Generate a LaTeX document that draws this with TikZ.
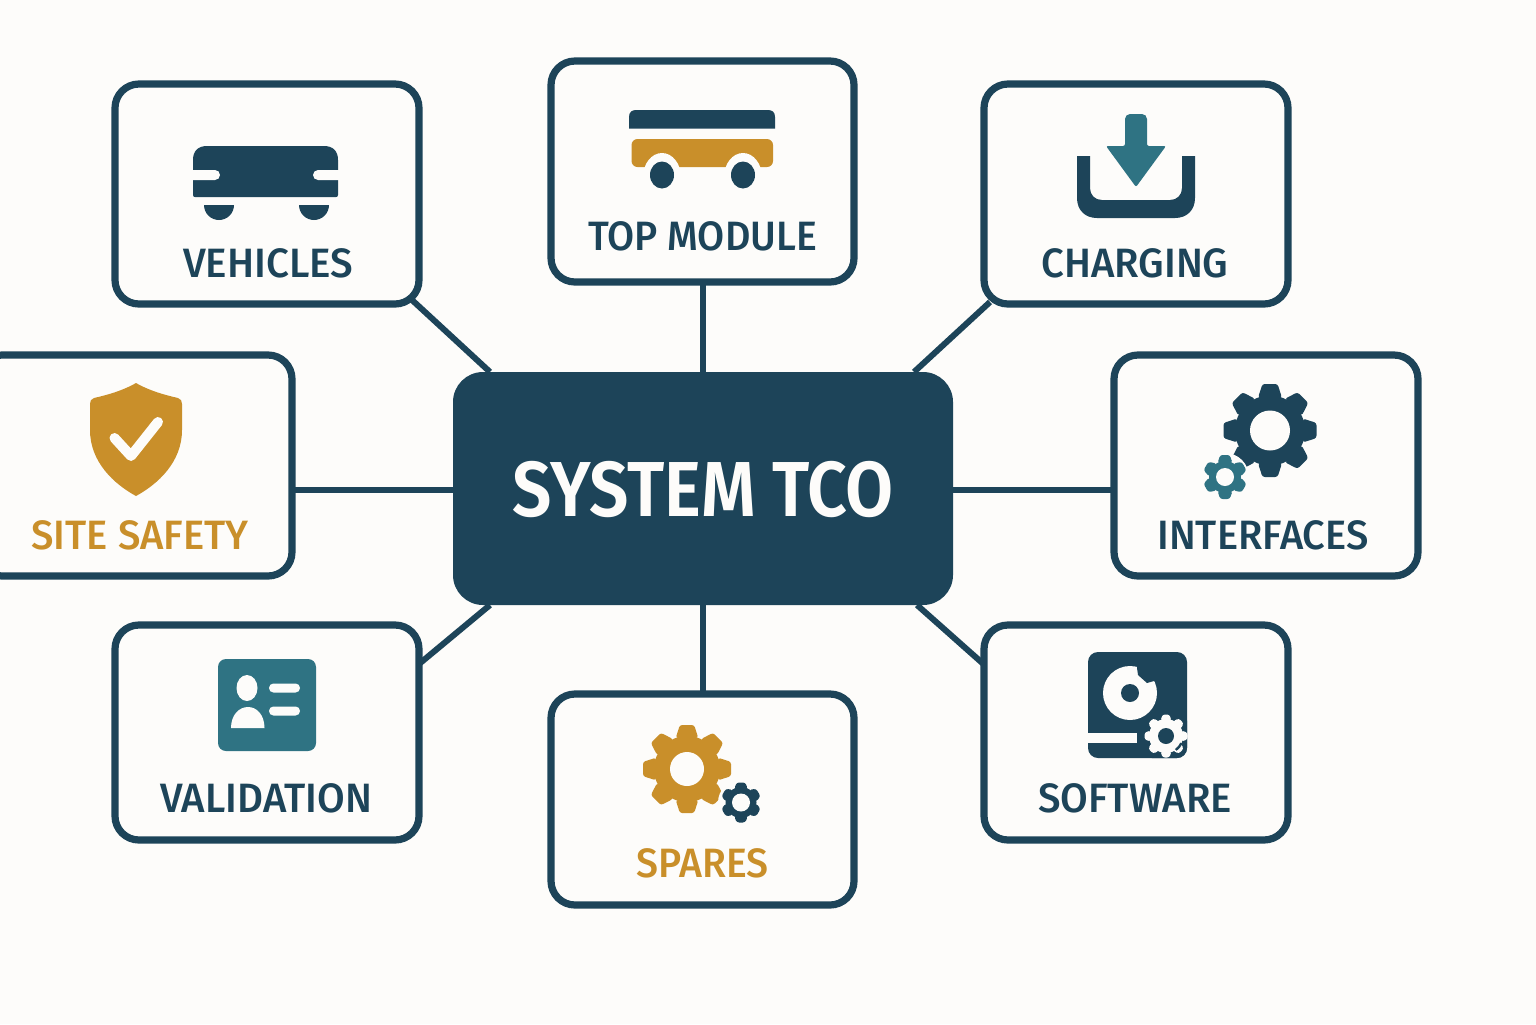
\documentclass[tikz,border=0pt]{standalone}
\usepackage{fontspec}
\usepackage{graphicx}
\setmainfont{Fira Sans}[BoldFont=Fira Sans Medium]
\newfontfamily\hubfont{Fira Sans SemiBold}
\usetikzlibrary{backgrounds}
\definecolor{bgc}{HTML}{FDFCFA}
\definecolor{navy}{HTML}{1D4459}
\definecolor{gold}{HTML}{C98F2A}
\definecolor{teal2}{HTML}{2F7383}
\tikzset{
  tile/.style={draw=navy,line width=3.6pt,fill=bgc,rounded corners=12pt,outer sep=0pt,inner sep=0pt},
  hub/.style={fill=navy,rounded corners=15pt,outer sep=0pt,inner sep=0pt,minimum width=250pt,minimum height=116.5pt},
  link/.style={draw=navy,line width=3pt},
  lab/.style={font=\bfseries\fontsize{20.5}{22}\selectfont,inner sep=0pt,text=navy},
}
\newcommand{\squeeze}[2]{\resizebox{#1}{\height}{#2}}
% cx cy R root hole teeth colour holecolour
\newcommand{\gearicon}[8]{%
  \begin{scope}[shift={(#1,#2)}]
    \fill[#7] (0,0) circle[radius=#4];
    \pgfmathsetmacro{\stepang}{360/#6}
    \pgfmathsetmacro{\topw}{#3*1.3/#6}
    \pgfmathsetmacro{\basew}{#3*2.05/#6}
    \foreach \k in {1,...,#6}{
      \fill[#7,rotate=\k*\stepang,rounded corners=1.2pt]
        (-\basew,-#4+2) -- (-\topw,-#3) -- (\topw,-#3) -- (\basew,-#4+2) -- cycle;
    }
    \fill[#8] (0,0) circle[radius=#5];
  \end{scope}}
\begin{document}
\begin{tikzpicture}[x=0.5pt,y=-0.5pt]
\useasboundingbox (0,0) rectangle (1536,1024);
\clip (0,0) rectangle (1536,1024);
\begin{scope}[on background layer]
  \fill[bgc] (0,0) rectangle (1536,1024);
\end{scope}

\node[hub] (hub) at (703,488.5) {};
\node[tile,minimum width=152pt,minimum height=110pt] (veh) at (267,194) {};
\node[tile,minimum width=151.5pt,minimum height=110.5pt] (top) at (702.5,171.5) {};
\node[tile,minimum width=152pt,minimum height=110pt] (chg) at (1136,194) {};
\node[tile,minimum width=152pt,minimum height=110.5pt] (ifc) at (1266,465.5) {};
\node[tile,minimum width=152pt,minimum height=107.5pt] (sw) at (1136,732.5) {};
\node[tile,minimum width=151.5pt,minimum height=105.5pt] (spr) at (702.5,799.5) {};
\node[tile,minimum width=152pt,minimum height=107.5pt] (val) at (267,732.5) {};
\node[tile,minimum width=157pt,minimum height=110.5pt] (site) at (135,465.5) {};

\begin{scope}[on background layer]
  \draw[link] ([shift={(-7,-4)}]veh.south east) -- ([shift={(37,0)}]hub.north west);
  \draw[link] (hub.north |- top.south) -- (hub.north);
  \draw[link] ([shift={(6,-2)}]chg.south west) -- ([shift={(-39,0)}]hub.north east);
  \draw[link] ([shift={(0,24.5)}]ifc.west) -- ([shift={(0,1.5)}]hub.east);
  \draw[link] ([shift={(0,24.5)}]site.east) -- ([shift={(0,1.5)}]hub.west);
  \draw[link] ([shift={(0,-176)}]val.south east) -- ([shift={(37,0)}]hub.south west);
  \draw[link] ([shift={(0,-175.5)}]sw.south west) -- ([shift={(-36,0)}]hub.south east);
  \draw[link] (hub.south |- spr.north) -- (hub.south);
\end{scope}

\node[text=bgc,inner sep=0pt,font=\hubfont\fontsize{39}{40}\selectfont] (t0) at (703,489) {\squeeze{191pt}{SYSTEM TCO}};
\node[lab] (t1) at (268,263) {\squeeze{85pt}{VEHICLES}};
\node[lab] (t2) at (702.5,236) {\squeeze{114.5pt}{TOP MODULE}};
\node[lab] (t3) at (1135,263) {\squeeze{93.5pt}{CHARGING}};
\node[lab] (t4) at (1263,535) {\squeeze{105.5pt}{INTERFACES}};
\node[lab] (t5) at (1135,798) {\squeeze{97pt}{SOFTWARE}};
\node[lab,text=gold] (t6) at (702.5,863) {\squeeze{66pt}{SPARES}};
\node[lab] (t7) at (266,798) {\squeeze{106pt}{VALIDATION}};
\node[lab,text=gold] (t8) at (140,535) {\squeeze{108.5pt}{SITE SAFETY}};

% vehicles icon
\fill[navy] (193,160) .. controls (193,151) and (198,146) .. (207,146) -- (324,146) .. controls (333,146) and (338,151) .. (338,160) -- (338,195) .. controls (338,196.5) and (337,197) .. (336,197) -- (195,197) .. controls (194,197) and (193,196.5) .. (193,195) -- cycle;
\fill[bgc,rounded corners=2.5pt] (180,170) rectangle (220,180);
\fill[bgc,rounded corners=2.5pt] (313,170) rectangle (352,180);
\fill[navy] (204,205) arc[start angle=180,end angle=0,radius=15] -- cycle;
\fill[navy] (299,205) arc[start angle=180,end angle=0,radius=15] -- cycle;

% top module icon
\fill[navy] (629,128.5) -- (629,117) .. controls (629,112) and (632,110) .. (636,110) -- (768,110) .. controls (772,110) and (775,112) .. (775,117) -- (775,128.5) -- cycle;
\fill[gold,rounded corners=3pt] (631.5,139) rectangle (773,167);
\fill[bgc] (662,177) ellipse[x radius=19,y radius=24];
\fill[bgc] (743,177) ellipse[x radius=19,y radius=24];
\fill[navy] (662,175) ellipse[x radius=12,y radius=13.5];
\fill[navy] (743,175) ellipse[x radius=12,y radius=13.5];

% charging icon
\fill[navy] (1077,156) -- (1077,198) .. controls (1077,210) and (1085,218) .. (1097,218) -- (1175,218) .. controls (1187,218) and (1195,210) .. (1195,198) -- (1195,156) -- (1182,156) -- (1182,188) .. controls (1182,195) and (1177,200) .. (1170,200) -- (1102,200) .. controls (1095,200) and (1090,195) .. (1090,188) -- (1090,156) -- cycle;
\fill[teal2,rounded corners=1pt] (1136,187) -- (1106,146) -- (1125,146) [rounded corners=2.5pt] -- (1125,114) -- (1147,114) [rounded corners=1pt] -- (1147,146) -- (1166,146) -- cycle;

% interfaces icon
\gearicon{1270}{430.5}{46.5}{35}{20}{8}{navy}{bgc}
\fill[bgc] (1225,477) circle[radius=24];
\gearicon{1225}{477}{22}{16}{9}{6}{teal2}{bgc}

% software icon
\fill[navy,rounded corners=5pt] (1088,652) rectangle (1187,758);
\fill[bgc] (1088,733) rectangle (1137,743);
\fill[bgc] (1130,693) circle[radius=27];
\fill[navy] (1137,660) -- (1137,668) -- (1138,675) -- (1147,683) -- (1154,681) -- (1166,680) -- (1166,660) -- cycle;
\fill[navy] (1130,693) circle[radius=9];
\begin{scope}
  \clip[rounded corners=5pt] (1088,652) rectangle (1187,758);
  \fill[navy] (1167,737) circle[radius=26];
\end{scope}
\gearicon{1166}{736}{21.5}{17}{8}{8}{bgc}{navy}
\draw[navy,line width=1.2pt] (1166,736) ++(25:17) arc[start angle=25,end angle=55,radius=17];

% spares icon
\gearicon{687}{769}{44}{33}{17}{8}{gold}{bgc}
\fill[bgc] (741,802.5) circle[radius=23];
\gearicon{741}{802.5}{20}{15.5}{9}{6}{navy}{bgc}

% validation icon
\fill[teal2,rounded corners=4pt] (218,659) rectangle (316,751);
\fill[bgc] (247,688) ellipse[x radius=10.5,y radius=13];
\fill[bgc] (231,728) .. controls (231,715) and (239,707) .. (248,707) .. controls (257,707) and (264.5,715) .. (264.5,728) -- cycle;
\fill[bgc,rounded corners=2.2pt] (269,683.5) rectangle (300,692.5);
\fill[bgc,rounded corners=2.2pt] (269,706.5) rectangle (300,715.5);

% site safety icon
\fill[gold] (136,383) .. controls (150,391) and (165,395) .. (178,398) .. controls (181,399) and (182,401) .. (182,404) -- (182,430) .. controls (182,462) and (158,484) .. (136,496) .. controls (114,484) and (90,462) .. (90,430) -- (90,404) .. controls (90,401) and (91,399) .. (94,398) .. controls (107,395) and (122,391) .. (136,383) -- cycle;
\draw[bgc,line width=5pt,line cap=round,line join=round] (114.5,438) -- (131,456) -- (158,422);
\end{tikzpicture}
\end{document}
